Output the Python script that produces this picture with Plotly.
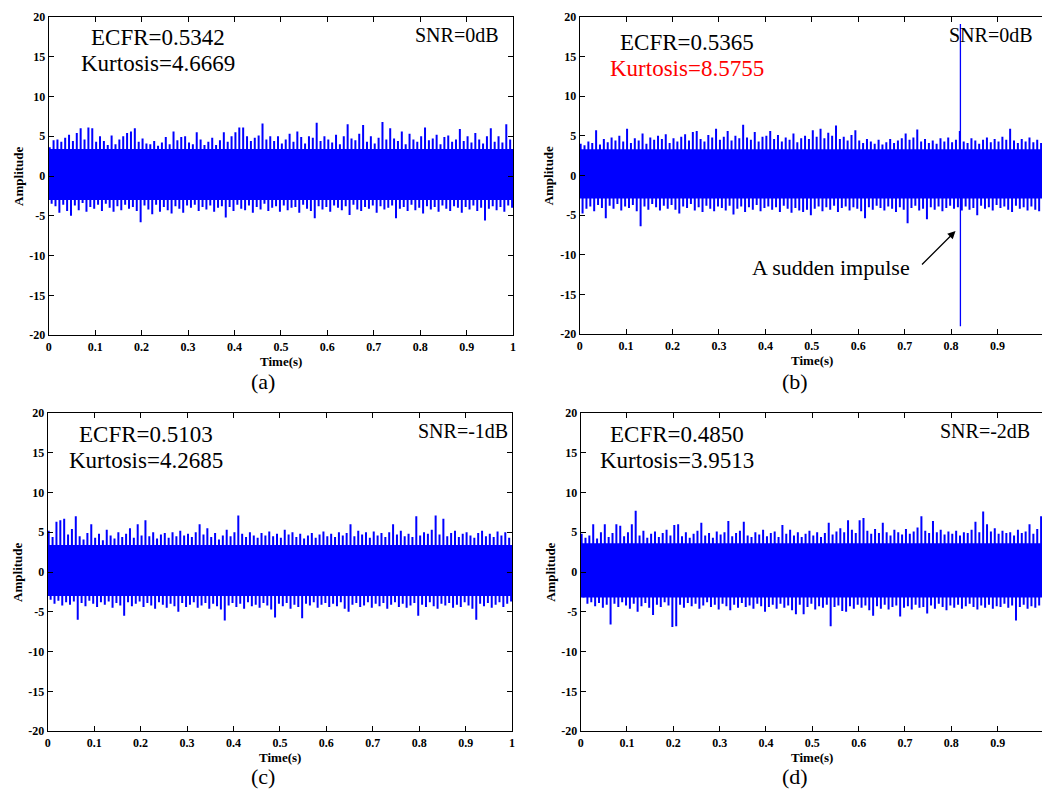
import plotly.graph_objects as go

W, H = 1045, 806

# ---------------- data ----------------
# time axis: 0..1 s, each signal summarised by its positive and negative peaks per 1/120 s bin
UPPER_A = [3.6, 4.5, 4.6, 4.3, 4.8, 5.2, 4.4, 5.4, 6.0, 4.6, 6.1, 6.0,
           4.3, 5.0, 4.4, 3.9, 5.1, 4.0, 4.6, 5.0, 5.4, 5.6, 6.0, 4.3,
           4.7, 4.1, 4.0, 4.4, 3.8, 4.2, 4.9, 4.0, 5.6, 4.5, 4.9, 5.0,
           4.2, 4.0, 5.5, 4.6, 3.9, 4.3, 4.8, 3.9, 4.5, 5.5, 4.3, 5.0,
           5.5, 6.1, 6.1, 5.0, 4.4, 4.8, 5.1, 6.6, 4.6, 5.0, 4.4, 5.0,
           4.1, 4.6, 5.3, 4.3, 5.6, 4.9, 4.1, 5.0, 4.8, 6.7, 4.4, 5.0,
           4.6, 4.2, 5.2, 4.0, 5.0, 6.5, 4.7, 4.5, 5.3, 6.4, 4.3, 5.0,
           4.1, 4.8, 6.8, 4.6, 6.0, 4.7, 4.4, 5.6, 4.0, 5.3, 4.6, 4.3,
           5.0, 6.1, 4.5, 4.7, 5.2, 4.0, 4.9, 5.1, 4.3, 4.6, 5.9, 4.4,
           5.0, 4.2, 5.4, 4.6, 4.1, 5.0, 6.0, 4.3, 5.0, 4.2, 6.5, 4.6]
LOWER_A = [-3.5, -3.8, -4.6, -3.6, -4.4, -5.0, -3.7, -4.3, -3.4, -4.5, -3.9, -4.1,
           -3.6, -4.4, -3.5, -4.0, -4.5, -3.8, -4.3, -3.6, -4.1, -3.9, -4.4, -5.8,
           -3.7, -4.2, -4.8, -3.6, -4.5, -3.9, -4.3, -4.7, -3.8, -4.1, -4.6, -3.7,
           -4.0, -3.6, -4.4, -3.9, -4.2, -3.7, -4.5, -4.0, -3.8, -5.2, -3.9, -4.4,
           -3.6, -4.1, -4.3, -3.7, -4.6, -3.9, -4.2, -3.5, -4.4, -4.0, -3.8, -4.5,
           -3.7, -4.3, -4.0, -3.9, -4.6, -3.6, -4.1, -4.4, -5.3, -3.8, -4.2, -3.9,
           -4.5, -3.7, -4.0, -4.3, -3.8, -4.9, -3.6, -4.2, -4.4, -3.9, -4.1, -3.7,
           -4.6, -3.8, -4.2, -4.0, -3.7, -5.3, -4.1, -3.9, -4.4, -3.6, -4.3, -4.0,
           -4.7, -3.8, -4.2, -3.9, -4.5, -3.7, -4.1, -4.4, -3.8, -4.0, -4.6, -3.9,
           -4.2, -3.7, -4.4, -4.0, -5.6, -4.1, -3.8, -4.3, -3.9, -4.5, -3.7, -4.0]

UPPER_B = [4.0, 3.8, 4.3, 4.1, 5.7, 3.9, 4.6, 4.2, 4.8, 4.4, 5.0, 4.3,
           5.9, 4.1, 4.7, 4.4, 5.3, 4.0, 4.8, 4.5, 5.0, 4.6, 5.2, 4.1,
           4.7, 4.3, 4.9, 5.2, 4.4, 5.5, 5.6, 4.6, 4.3, 5.1, 4.8, 5.9,
           4.5, 4.9, 5.6, 4.4, 5.0, 4.7, 6.4, 4.8, 4.5, 5.5, 4.3, 4.9,
           5.0, 5.6, 4.6, 5.1, 4.3, 4.8, 4.5, 5.3, 4.2, 4.7, 5.0, 4.6,
           5.7, 4.9, 5.9, 4.7, 5.4, 5.0, 6.3, 4.6, 4.9, 4.4, 5.1, 5.7,
           4.4, 4.1, 4.6, 4.3, 4.0, 4.5, 3.9, 4.2, 4.6, 4.1, 4.4, 4.7,
           5.3, 4.5, 4.8, 5.8, 4.3, 4.6, 4.1, 4.4, 4.0, 4.7, 4.3, 4.8,
           4.2, 4.5, 5.6, 4.3, 4.1, 4.7, 4.4, 4.0, 4.5, 4.8, 4.2, 4.6,
           4.3, 4.9, 4.5, 5.9, 4.4, 4.1, 4.6, 4.3, 4.8, 4.2, 4.5, 4.1]
LOWER_B = [-4.8, -4.2, -3.9, -4.5, -3.7, -4.1, -5.4, -3.8, -4.2, -3.6, -4.4, -3.9,
           -4.1, -3.7, -4.5, -6.4, -3.9, -4.3, -3.6, -4.0, -4.4, -3.8, -4.2, -3.7,
           -4.3, -4.8, -3.9, -4.1, -3.6, -4.4, -4.0, -4.6, -3.8, -4.2, -4.5, -3.9,
           -4.1, -4.4, -3.8, -4.9, -4.2, -3.9, -4.6, -4.0, -4.3, -3.7, -4.5, -4.1,
           -3.9, -4.3, -4.0, -4.6, -3.8, -4.2, -4.7, -4.1, -4.4, -4.6, -4.3, -5.0,
           -4.2, -3.9, -4.5, -4.0, -4.3, -3.8, -4.6, -4.1, -3.9, -4.4, -4.0, -4.2,
           -4.5, -5.4, -4.0, -4.3, -3.8, -4.1, -4.4, -3.9, -4.2, -4.6, -4.0, -4.3,
           -6.0, -4.1, -3.8, -4.4, -4.2, -5.5, -4.0, -4.3, -3.9, -4.5, -4.1, -3.8,
           -4.2, -4.0, -4.4, -3.9, -4.3, -4.1, -5.0, -3.8, -4.2, -4.0, -4.4, -3.7,
           -4.1, -3.9, -4.3, -4.6, -3.8, -4.2, -4.0, -4.4, -3.9, -4.3, -4.5, -4.2]
IMPULSE_T = 0.82
IMPULSE_TOP = 19.1
IMPULSE_BOTTOM = -19.0

UPPER_C = [5.2, 4.4, 6.3, 6.5, 6.7, 4.7, 5.4, 7.0, 4.5, 4.1, 4.9, 6.0,
           4.3, 4.8, 4.0, 5.3, 4.6, 4.2, 5.0, 4.4, 4.8, 5.5, 4.3, 6.0,
           4.6, 6.5, 4.5, 5.0, 4.2, 4.7, 4.9, 4.3, 5.0, 4.5, 5.2, 4.6,
           4.8, 4.4, 5.0, 6.0, 4.7, 5.5, 4.4, 4.9, 4.1, 4.6, 5.3, 4.5,
           5.0, 7.1, 4.8, 4.4, 5.0, 4.6, 4.3, 4.9, 4.6, 5.1, 4.5, 4.8,
           4.3, 5.3, 4.7, 5.0, 4.4, 4.8, 4.2, 4.6, 4.9, 4.3, 4.7, 5.1,
           4.5, 4.8, 4.4, 5.0, 4.6, 4.9, 6.0, 4.5, 5.2, 4.7, 5.0, 4.3,
           5.1, 4.6, 4.9, 4.4, 5.0, 6.0, 4.7, 5.2, 4.5, 4.8, 4.4, 7.0,
           4.6, 5.0, 4.8, 5.3, 7.1, 4.7, 6.7, 4.5, 4.9, 5.2, 4.4, 4.8,
           5.0, 4.6, 4.3, 4.9, 5.2, 4.5, 4.8, 4.4, 5.1, 4.6, 5.0, 4.3]
LOWER_C = [-3.5, -4.0, -3.6, -4.2, -3.8, -4.1, -3.7, -6.0, -3.9, -4.3, -3.6, -4.0,
           -4.4, -3.8, -4.1, -3.7, -4.5, -3.9, -4.2, -5.5, -3.8, -4.3, -4.0, -3.7,
           -4.4, -3.9, -4.2, -4.6, -3.8, -4.1, -4.5, -4.0, -4.3, -5.0, -3.9, -4.4,
           -4.1, -3.8, -4.5, -4.2, -3.9, -4.6, -4.0, -4.3, -4.7, -6.1, -4.2, -3.9,
           -4.4, -4.0, -4.6, -3.8, -4.3, -4.1, -4.5, -3.9, -4.2, -4.7, -5.7, -4.0,
           -4.3, -3.9, -4.6, -4.1, -4.4, -5.8, -4.0, -4.2, -3.8, -4.5, -4.1, -3.9,
           -4.4, -4.0, -4.3, -3.8, -4.6, -5.0, -4.1, -3.9, -4.4, -4.2, -3.8, -4.5,
           -4.0, -4.3, -3.9, -4.6, -4.1, -3.8, -4.4, -4.0, -4.5, -4.2, -3.9, -5.5,
           -4.1, -4.4, -3.8, -4.3, -4.6, -4.0, -4.2, -3.9, -4.5, -4.1, -4.4, -3.8,
           -4.2, -4.6, -6.0, -4.0, -4.3, -3.9, -4.5, -4.1, -3.8, -4.4, -4.0, -3.7]

UPPER_D = [4.8, 4.3, 4.6, 6.0, 4.2, 5.0, 6.0, 4.4, 4.9, 6.0, 5.8, 4.5,
           5.0, 6.0, 7.7, 4.6, 5.2, 4.3, 4.8, 5.1, 4.4, 4.9, 5.3, 4.6,
           5.9, 6.0, 4.5, 5.0, 4.3, 4.8, 5.2, 6.2, 4.6, 4.9, 4.3, 5.1,
           4.7, 5.0, 6.4, 4.5, 4.9, 5.2, 6.3, 4.6, 4.4, 5.0, 4.7, 5.3,
           4.5, 4.9, 5.1, 4.4, 5.9, 4.8, 5.3, 4.6, 5.0, 4.4, 4.8, 5.2,
           4.6, 5.0, 4.4, 4.9, 6.2, 4.7, 5.1, 5.5, 5.0, 6.5, 5.3, 4.9,
           6.5, 6.8, 5.2, 4.8, 5.4, 4.9, 6.2, 5.0, 4.6, 5.3, 5.0, 4.7,
           5.4, 4.8, 5.1, 5.6, 7.0, 5.2, 4.9, 6.4, 5.0, 5.3, 4.7, 5.1,
           4.8, 5.2, 4.6, 5.0, 4.9, 5.3, 6.3, 5.0, 7.6, 6.0, 5.1, 5.5,
           4.8, 5.2, 4.9, 5.0, 4.6, 5.3, 4.9, 5.1, 6.0, 4.8, 5.4, 7.0]
LOWER_D = [-3.2, -4.0, -3.8, -4.3, -3.9, -4.5, -4.1, -6.6, -4.0, -4.4, -3.8, -4.2,
           -4.6, -4.0, -5.0, -4.3, -3.9, -4.5, -5.4, -4.1, -4.4, -3.8, -4.2, -6.9,
           -6.8, -4.1, -4.5, -3.9, -4.3, -4.0, -4.6, -4.2, -3.8, -4.4, -4.1, -4.7,
           -4.0, -4.3, -4.8, -4.1, -4.5, -3.9, -4.4, -4.2, -4.6, -4.0, -4.3, -5.0,
           -4.4, -4.1, -4.6, -4.0, -4.5, -4.2, -4.8, -5.3, -4.1, -5.3, -4.4, -4.0,
           -4.7, -4.3, -4.5, -4.1, -6.8, -4.4, -4.2, -4.9, -5.0, -4.3, -4.6, -4.1,
           -4.5, -4.2, -4.8, -5.5, -4.3, -4.6, -4.1, -4.7, -4.4, -4.2, -5.6, -4.5,
           -4.3, -4.7, -4.1, -4.5, -4.4, -5.2, -4.2, -4.6, -4.0, -4.4, -4.8, -4.2,
           -4.5, -4.1, -4.6, -4.3, -4.0, -4.4, -4.7, -4.2, -4.5, -4.1, -4.6, -4.3,
           -4.4, -4.0, -4.5, -4.2, -6.1, -4.4, -4.1, -4.6, -4.3, -4.5, -4.2, -4.4]

# dense core of each signal (level below which the trace looks solid)
CORE_HI = [3.4, 3.3, 3.4, 3.6]
CORE_LO = [-3.0, -2.9, -3.0, -3.2]

ECFR = ["ECFR=0.5342", "ECFR=0.5365", "ECFR=0.5103", "ECFR=0.4850"]
KURT = ["Kurtosis=4.6669", "Kurtosis=8.5755", "Kurtosis=4.2685", "Kurtosis=3.9513"]
SNR = ["SNR=0dB", "SNR=0dB", "SNR=-1dB", "SNR=-2dB"]
CAPTIONS = ["(a)", "(b)", "(c)", "(d)"]
X_TITLE = "Time(s)"
Y_TITLE = "Amplitude"
X_TICKS = [0, 0.1, 0.2, 0.3, 0.4, 0.5, 0.6, 0.7, 0.8, 0.9, 1]
Y_TICKS = [-20, -15, -10, -5, 0, 5, 10, 15, 20]

UPPERS = [UPPER_A, UPPER_B, UPPER_C, UPPER_D]
LOWERS = [LOWER_A, LOWER_B, LOWER_C, LOWER_D]

# ---------------- layout helpers (pixel -> paper) ----------------
def px(x):
    return x / W

def py(y):
    return 1 - y / H

# plot boxes in pixels: left, right(of t=1), top, bottom
BOXES = [(46, 513, 10, 334), (580, 1047, 10, 333), (45, 512, 413, 737), (581, 1047, 413, 737)]

SERIF = "Times New Roman, Liberation Serif, serif"
BLUE = "#0000FF"

fig = go.Figure()
layout = dict(width=W, height=H, margin=dict(l=0, r=0, t=0, b=0),
              paper_bgcolor="white", plot_bgcolor="white", showlegend=False)
annotations = []


def note(x, y, text, size, color="black", bold=False, angle=0):
    annotations.append(dict(x=px(x), y=py(y), xref="paper", yref="paper", text=text,
                            showarrow=False, xanchor="center", yanchor="middle",
                            textangle=angle,
                            font=dict(family=SERIF, size=size, color=color,
                                      weight="bold" if bold else "normal")))


for k in range(4):
    xa = "x" if k == 0 else f"x{k+1}"
    ya = "y" if k == 0 else f"y{k+1}"
    up, lo = UPPERS[k], LOWERS[k]
    n = len(up)
    xs, ys = [], []
    for i in range(n):
        tu = (i + 0.25) / n
        tl = (i + 0.75) / n
        xs += [tu, tu, None, tl, tl, None]
        ys += [0, up[i], None, 0, lo[i], None]
    # dense core band
    fig.add_trace(go.Scatter(x=[0, 1], y=[CORE_HI[k], CORE_HI[k]], mode="lines",
                             line=dict(width=0, color=BLUE), xaxis=xa, yaxis=ya,
                             hoverinfo="skip"))
    fig.add_trace(go.Scatter(x=[0, 1], y=[CORE_LO[k], CORE_LO[k]], mode="lines",
                             line=dict(width=0, color=BLUE), fill="tonexty",
                             fillcolor=BLUE, xaxis=xa, yaxis=ya, hoverinfo="skip"))
    fig.add_trace(go.Scatter(x=xs, y=ys, mode="lines", line=dict(width=2.0, color=BLUE),
                             xaxis=xa, yaxis=ya, hoverinfo="skip", connectgaps=False))
    if k == 1:
        fig.add_trace(go.Scatter(x=[IMPULSE_T, IMPULSE_T], y=[IMPULSE_BOTTOM, IMPULSE_TOP],
                                 mode="lines", line=dict(width=1.3, color=BLUE),
                                 xaxis=xa, yaxis=ya, hoverinfo="skip"))

    l, r, t, b = BOXES[k]
    right_edge = min(r, W)
    xmax = (right_edge - l) / (r - l)
    cut = r > W
    axis_common = dict(showgrid=False, zeroline=False, ticks="inside", ticklen=5,
                       tickwidth=1, tickcolor="black", showline=True, linecolor="black",
                       linewidth=1.2,
                       tickfont=dict(family=SERIF, size=12, color="black", weight="bold"))
    xkey = "xaxis" if k == 0 else f"xaxis{k+1}"
    ykey = "yaxis" if k == 0 else f"yaxis{k+1}"
    layout[xkey] = dict(axis_common, domain=[px(l), px(right_edge)], range=[0, xmax],
                        anchor=ya, tickvals=X_TICKS,
                        ticktext=[f"{v:g}" for v in X_TICKS], mirror="ticks")
    layout[ykey] = dict(axis_common, domain=[py(b), py(t)], range=[-20, 20], anchor=xa,
                        tickvals=Y_TICKS, ticktext=[str(v) for v in Y_TICKS],
                        mirror=False if cut else "ticks")
    # axis titles
    note((l + r) / 2, b + 27, X_TITLE, 13, bold=True)
    note(l - 31, (t + b) / 2, Y_TITLE, 13, bold=True, angle=-90)

# text annotations (pixel centres)
TEXT_POS = [  # ecfr, kurtosis, snr, caption
    ((156, 31), (156, 58), (457, 29), (262, 381)),
    ((688, 36), (688, 63), (994, 28), (797, 381)),
    ((144, 435), (144, 462), (463, 432), (262, 783)),
    ((678, 435), (678, 462), (988, 432), (797, 783)),
]
for k in range(4):
    (ex, ey), (kx, ky), (sx, sy), (cx, cy) = TEXT_POS[k]
    note(ex, ey, ECFR[k], 23)
    note(kx, ky, KURT[k], 23, color="red" if k == 1 else "black")
    note(sx, sy, SNR[k], 20)
    note(cx, cy, CAPTIONS[k], 22)

note(833, 265, "A sudden impulse", 22)
annotations.append(dict(x=px(958), y=py(228), ax=923 - 958, ay=263 - 228, xref="paper",
                        yref="paper", axref="pixel", ayref="pixel", text="", showarrow=True,
                        arrowhead=2, arrowsize=1.2, arrowwidth=1.3, arrowcolor="black"))

layout["annotations"] = annotations
fig.update_layout(**layout)
fig.write_html("out.html")
